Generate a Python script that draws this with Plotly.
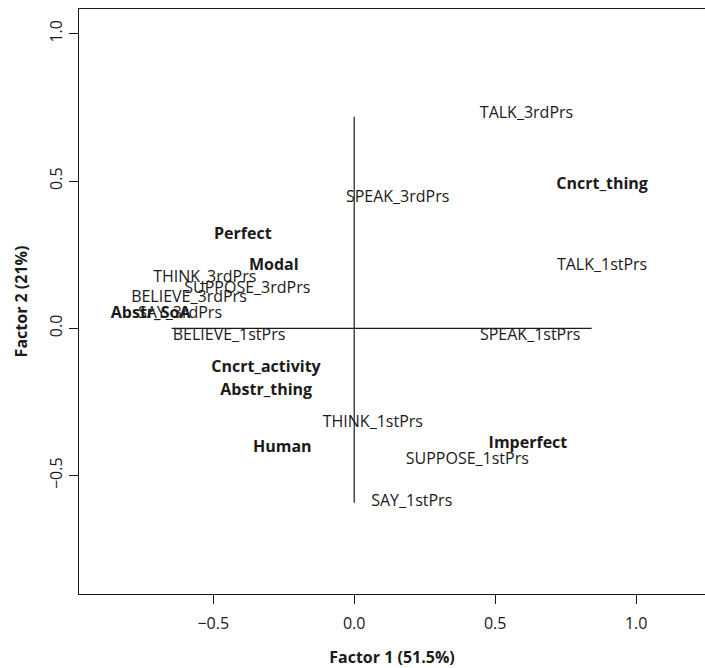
import plotly.graph_objects as go

# Row points (verb forms) on the first two factors
verbs = ["TALK_3rdPrs", "SPEAK_3rdPrs", "TALK_1stPrs", "THINK_3rdPrs",
         "SUPPOSE_3rdPrs", "BELIEVE_3rdPrs", "SAY_3rdPrs", "BELIEVE_1stPrs",
         "SPEAK_1stPrs", "THINK_1stPrs", "SUPPOSE_1stPrs", "SAY_1stPrs"]
verb_f1 = [0.611, 0.154, 0.879, -0.530, -0.379, -0.586, -0.618, -0.444,
           0.624, 0.066, 0.401, 0.204]
verb_f2 = [0.727, 0.441, 0.213, 0.172, 0.132, 0.102, 0.049, -0.026,
           -0.026, -0.323, -0.447, -0.591]

# Column points (semantic / aspectual features)
features = ["Cncrt_thing", "Perfect", "Modal", "Abstr_SoA",
            "Cncrt_activity", "Abstr_thing", "Human", "Imperfect"]
feat_f1 = [0.879, -0.395, -0.285, -0.722, -0.313, -0.312, -0.255, 0.616]
feat_f2 = [0.486, 0.316, 0.213, 0.049, -0.136, -0.214, -0.407, -0.394]

# Reference cross through the origin
hline_x = [-0.647, 0.842]
hline_y = [0.0, 0.0]
vline_x = [0.0, 0.0]
vline_y = [-0.592, 0.718]

x_ticks = [-0.5, 0.0, 0.5, 1.0]
y_ticks = [-0.5, 0.0, 0.5, 1.0]
x_title = "Factor 1 (51.5%)"
y_title = "Factor 2 (21%)"

FONT = "Open Sans"
INK = "#1a1a1a"


def tick_text(vals):
    return [f"{v:.1f}".replace("-", "\u2212") for v in vals]


fig = go.Figure()
fig.add_trace(go.Scatter(x=hline_x, y=hline_y, mode="lines",
                         line=dict(color=INK, width=1.2), hoverinfo="skip"))
fig.add_trace(go.Scatter(x=vline_x, y=vline_y, mode="lines",
                         line=dict(color=INK, width=1.2), hoverinfo="skip"))
fig.add_trace(go.Scatter(x=verb_f1, y=verb_f2, mode="text", text=verbs,
                         textposition="middle center",
                         textfont=dict(family=FONT, size=16, color=INK)))
fig.add_trace(go.Scatter(x=feat_f1, y=feat_f2, mode="text", text=features,
                         textposition="middle center",
                         textfont=dict(family=FONT, size=16, color=INK,
                                       weight="bold")))

fig.update_layout(
    width=705, height=668,
    margin=dict(l=79, r=0, t=9, b=74),
    paper_bgcolor="white", plot_bgcolor="white",
    showlegend=False,
    font=dict(family=FONT, size=16, color=INK),
)
fig.update_xaxes(
    range=[-0.976, 1.244], tickvals=x_ticks, ticktext=tick_text(x_ticks),
    showgrid=False, zeroline=False,
    showline=True, mirror=True, linecolor=INK, linewidth=1.3,
    ticks="outside", ticklen=9, tickwidth=1.3, tickcolor=INK,
    ticklabelstandoff=6,
    tickfont=dict(family=FONT, size=16, color=INK),
    title=dict(text=x_title, standoff=21,
               font=dict(family=FONT, size=16, color=INK, weight="bold")),
)
fig.update_yaxes(
    range=[-0.902, 1.084], tickvals=y_ticks, ticktext=tick_text(y_ticks),
    tickangle=-90,
    showgrid=False, zeroline=False,
    showline=True, mirror=False, linecolor=INK, linewidth=1.3,
    ticks="outside", ticklen=9, tickwidth=1.3, tickcolor=INK,
    tickfont=dict(family=FONT, size=16, color=INK),
    title=dict(text=y_title, standoff=13,
               font=dict(family=FONT, size=16, color=INK, weight="bold")),
)

fig.write_html("out.html")
